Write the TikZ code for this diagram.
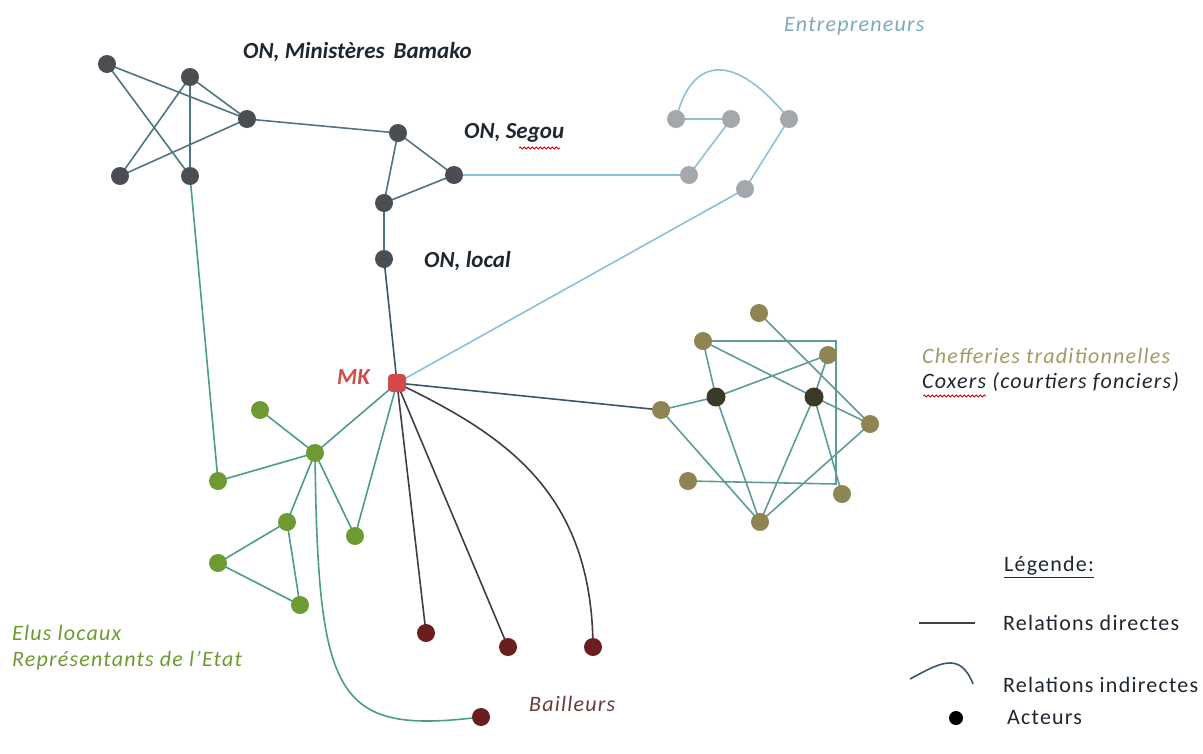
\documentclass[tikz,border=0pt]{standalone}
\usepackage{fontspec}
\setmainfont{Carlito}
\newfontfamily\spacedfont[LetterSpace=5.5]{Carlito}
\usetikzlibrary{decorations.pathmorphing,backgrounds}
\definecolor{ongray}{HTML}{4A4D52}
\definecolor{entgray}{HTML}{A4A7AB}
\definecolor{olivenode}{HTML}{8F8552}
\definecolor{coxnode}{HTML}{3A3A26}
\definecolor{greennode}{HTML}{6E9A32}
\definecolor{rednode}{HTML}{6B1E1E}
\definecolor{mkred}{HTML}{D44A4A}
\definecolor{online}{HTML}{4F7585}
\definecolor{entline}{HTML}{8CC0D8}
\definecolor{tealline}{HTML}{4A9C8C}
\definecolor{oliveline}{HTML}{5E9C98}
\definecolor{darkline}{HTML}{3A5470}
\definecolor{bailline}{HTML}{443A4A}
\definecolor{chefcol}{HTML}{A29A66}
\definecolor{entcol}{HTML}{7EA8C2}
\definecolor{eluscol}{HTML}{6E9A32}
\definecolor{bailcol}{HTML}{6A3A3A}
\definecolor{txtdark}{HTML}{1E2630}
\tikzset{
  actor/.style={circle, inner sep=0pt, minimum size=18pt, fill=#1},
  lbl/.style={anchor=west, inner sep=0pt, font=\spacedfont\fontsize{22}{26}\selectfont\itshape, text=#1},
  onlbl/.style={anchor=west, inner sep=0pt, font=\fontsize{23}{27}\selectfont\bfseries\itshape, text=txtdark},
  leg/.style={anchor=west, inner sep=0pt, font=\spacedfont\fontsize{22}{26}\selectfont, text=txtdark},
  edge/.style={line width=1.6pt, draw=#1},
  squig/.style={draw=red!75!black, line width=0.8pt, decorate, decoration={snake, amplitude=1pt, segment length=4pt}}
}
\begin{document}
\begin{tikzpicture}[x=1pt, y=-1pt]
\useasboundingbox (0,0) rectangle (1203,753);
% ON Bamako
\node[actor=ongray] (a1) at (107,64) {};
\node[actor=ongray] (a2) at (190,77) {};
\node[actor=ongray] (a3) at (247,119) {};
\node[actor=ongray] (a4) at (120,176) {};
\node[actor=ongray] (a5) at (190,176) {};
% ON Segou / local
\node[actor=ongray] (b1) at (398,133) {};
\node[actor=ongray] (b2) at (454,175) {};
\node[actor=ongray] (b3) at (384,203) {};
\node[actor=ongray] (b4) at (384,259) {};
% Entrepreneurs
\node[actor=entgray] (e1) at (676,119) {};
\node[actor=entgray] (e2) at (731,119) {};
\node[actor=entgray] (e3) at (789,119) {};
\node[actor=entgray] (e4) at (689,175) {};
\node[actor=entgray] (e5) at (745,189) {};
% MK
\node[rounded corners=4pt, inner sep=0pt, minimum size=18pt, fill=mkred] (mk) at (397,383) {};
% Elus
\node[actor=greennode] (g1) at (260,410) {};
\node[actor=greennode] (g2) at (315,453) {};
\node[actor=greennode] (g3) at (218,481) {};
\node[actor=greennode] (g4) at (287,522) {};
\node[actor=greennode] (g5) at (355,536) {};
\node[actor=greennode] (g6) at (218,563) {};
\node[actor=greennode] (g7) at (300,605) {};
% Bailleurs
\node[actor=rednode] (r1) at (426,633) {};
\node[actor=rednode] (r2) at (508,647) {};
\node[actor=rednode] (r3) at (593,647) {};
\node[actor=rednode] (r4) at (481,717) {};
% Chefferies / Coxers
\node[actor=olivenode] (c1) at (759,313) {};
\node[actor=olivenode] (c2) at (703,341) {};
\node[actor=olivenode] (c3) at (828,355) {};
\node[actor=olivenode] (c4) at (661,410) {};
\node[actor=olivenode] (c5) at (870,424) {};
\node[actor=olivenode] (c6) at (688,481) {};
\node[actor=olivenode] (c7) at (842,494) {};
\node[actor=olivenode] (c8) at (760,522) {};
\node[actor=coxnode, minimum size=19pt] (d1) at (716,397) {};
\node[actor=coxnode, minimum size=19pt] (d2) at (814,397) {};
\coordinate (rtr) at (836,341);
\coordinate (rbr) at (836,484);

\begin{pgfonlayer}{background}
% ON edges
\draw[edge=online] (a1.center) -- (a3.center) (a1.center) -- (a5.center)
  (a2.center) -- (a4.center) (a2.center) -- (a5.center) (a2.center) -- (a3.center)
  (a4.center) -- (a3.center) (a3.center) -- (b1.center)
  (b1.center) -- (b2.center) (b1.center) -- (b3.center) (b3.center) -- (b2.center)
  (b3.center) -- (b4.center);
\draw[edge=darkline] (b4.center) -- (mk.center);
% Entrepreneurs
\draw[edge=entline] (b2.center) -- (e4.center) (e1.center) -- (e2.center)
  (e2.center) -- (e4.center) (e3.center) -- (e5.center) (e5.center) -- (mk.center);
\draw[edge=entline] (e1.center) .. controls (692,55) and (735,52) .. (e3.center);
% Elus
\draw[edge=tealline] (a5.center) -- (g3.center) (g1.center) -- (g2.center)
  (g2.center) -- (g3.center) (g2.center) -- (mk.center) (g2.center) -- (g4.center)
  (g2.center) -- (g5.center) (g5.center) -- (mk.center) (g4.center) -- (g6.center)
  (g4.center) -- (g7.center) (g6.center) -- (g7.center);
\draw[edge=tealline] (g2.center) .. controls (318,700) and (335,735) .. (r4.center);
% Bailleurs
\draw[edge=bailline] (mk.center) -- (r1.center) (mk.center) -- (r2.center);
\draw[edge=bailline] (mk.center) .. controls (505,435) and (592,492) .. (r3.center);
% Chefferies
\draw[edge=darkline] (mk.center) -- (c4.center);
\draw[edge=oliveline] (c2.center) -- (rtr) -- (rbr) -- (c6.center)
  (c1.center) -- (c5.center) (c2.center) -- (d2.center) (d2.center) -- (c5.center)
  (c2.center) -- (d1.center) (d1.center) -- (c3.center) (c3.center) -- (d2.center)
  (c4.center) -- (d1.center) (c4.center) -- (c8.center) (d1.center) -- (c8.center)
  (d2.center) -- (c8.center) (d2.center) -- (c7.center) (c5.center) -- (c8.center);
\end{pgfonlayer}

% Labels
\node[onlbl] (lbam) at (243,52) {ON, Ministères\, Bamako};
\node[onlbl] (lseg) at (464,133) {ON, Segou};
\node[onlbl] (lloc) at (424,261) {ON, local};
\node[lbl=entcol] (lent) at (784,26) {Entrepreneurs};
\node[onlbl, text=mkred] (lmk) at (337,377) {MK};
\node[lbl=chefcol] (lchef) at (922,356) {Chefferies traditionnelles};
\node[lbl=txtdark] (lcox) at (922,382) {Coxers (courtiers fonciers)};
\node[lbl=eluscol] (lelu) at (12,633) {Elus locaux};
\node[lbl=eluscol] (lrep) at (12,661) {Représentants de l’Etat};
\node[lbl=bailcol] (lbai) at (529,704) {Bailleurs};
% squiggles
\draw[squig] (519,148) -- (560,148);
\draw[squig] (923,396) -- (986,396);
% Legend
\node[leg] (lleg) at (1004,567) {\underline{Légende:}};
\coordinate (ld1) at (919,623);
\coordinate (ld2) at (975,623);
\draw[edge=bailline] (ld1) -- (ld2);
\node[leg] (lrd) at (1003,623) {Relations directes};
\coordinate (li1) at (910,679);
\coordinate (li2) at (973,684);
\draw[edge=darkline] (li1) .. controls (938,664) and (960,650) .. (li2);
\node[leg] (lri) at (1003,685) {Relations indirectes};
\node[circle, fill=black, inner sep=0pt, minimum size=14pt] (ldot) at (956,718) {};
\node[leg] (lact) at (1007,718) {Acteurs};
\end{tikzpicture}
\end{document}
